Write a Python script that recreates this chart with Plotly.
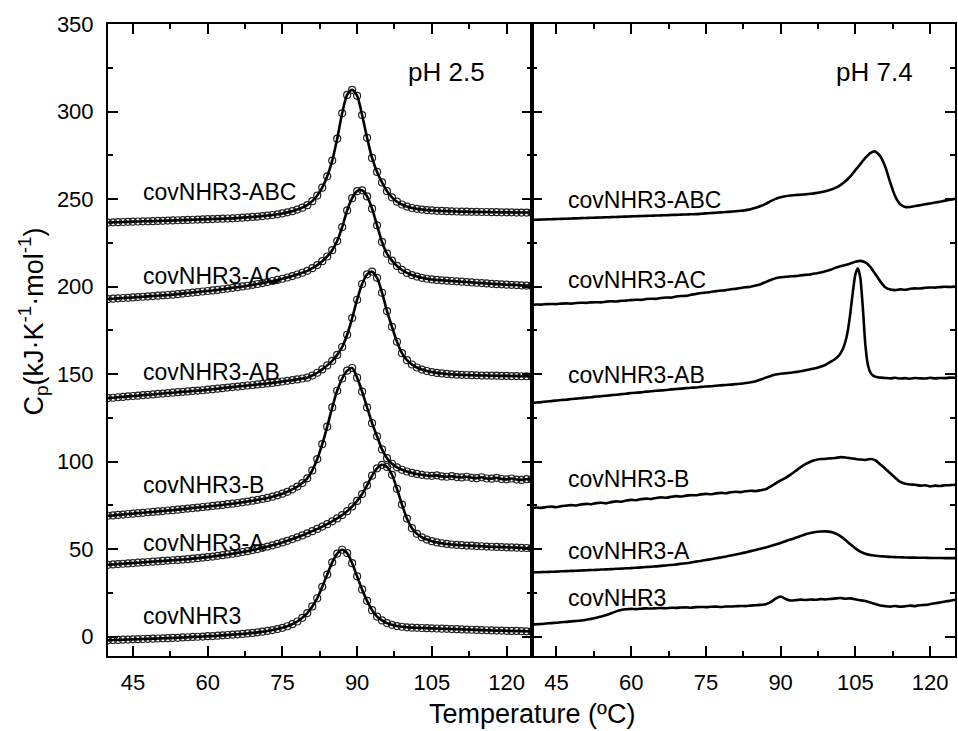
import plotly.graph_objects as go

# Temperature grid (ºC)
TEMP = list(range(40, 126))
AB74_TEMP = (list(range(40, 100))
             + [100, 100.5, 101, 101.5, 102, 102.5, 103, 103.5, 104, 104.5, 105,
                105.5, 106, 106.5, 107, 107.5, 108, 108.5, 109, 109.5, 110]
             + list(range(111, 126)))

NAMES = ["covNHR3", "covNHR3-A", "covNHR3-B", "covNHR3-AB", "covNHR3-AC", "covNHR3-ABC"]

# ---- pH 2.5 : Cp (kJ K-1 mol-1), offset thermograms ----
ph25_covNHR3 = [
    -2.0, -1.9, -1.8, -1.7, -1.6, -1.5, -1.4, -1.3, -1.2, -1.1,
    -1.0, -0.9, -0.8, -0.7, -0.6, -0.4, -0.3, -0.1, 0.0, 0.1,
    0.3, 0.4, 0.6, 0.8, 1.0, 1.2, 1.4, 1.6, 1.9, 2.2,
    2.5, 2.9, 3.3, 3.8, 4.4, 5.1, 6.0, 7.2, 8.7, 10.8,
    13.5, 17.3, 22.0, 28.5, 35.5, 42.5, 47.5, 49.7, 47.8, 42.0,
    34.5, 27.0, 20.5, 15.2, 11.5, 9.3, 7.8, 6.8, 6.1, 5.7,
    5.4, 5.2, 5.1, 5.0, 4.9, 4.8, 4.7, 4.6, 4.5, 4.4,
    4.3, 4.2, 4.1, 4.0, 3.9, 3.8, 3.7, 3.6, 3.5, 3.5,
    3.4, 3.3, 3.3, 3.2, 3.1, 3.0]
ph25_A = [
    41.1, 41.3, 41.5, 41.7, 41.9, 42.1, 42.3, 42.5, 42.7, 42.9,
    43.1, 43.3, 43.5, 43.7, 43.9, 44.1, 44.3, 44.6, 44.9, 45.2,
    45.5, 45.8, 46.2, 46.6, 47.0, 47.4, 47.9, 48.4, 48.9, 49.5,
    50.1, 50.8, 51.5, 52.2, 53.0, 53.9, 54.8, 55.8, 56.8, 57.9,
    59.1, 60.3, 61.6, 62.9, 64.3, 65.9, 67.6, 69.5, 71.7, 74.4,
    77.6, 81.5, 86.5, 92.0, 96.2, 98.2, 97.0, 92.5, 84.5, 75.5,
    67.5, 62.0, 58.8, 56.8, 55.5, 54.6, 53.9, 53.4, 53.0, 52.7,
    52.5, 52.3, 52.1, 52.0, 51.8, 51.7, 51.5, 51.4, 51.3, 51.2,
    51.1, 51.0, 50.9, 50.8, 50.7, 50.6]
ph25_B = [
    69.1, 69.3, 69.6, 69.8, 70.1, 70.3, 70.6, 70.8, 71.1, 71.3,
    71.6, 71.8, 72.1, 72.3, 72.6, 72.9, 73.2, 73.5, 73.8, 74.1,
    74.4, 74.7, 75.0, 75.3, 75.7, 76.0, 76.4, 76.8, 77.2, 77.7,
    78.2, 78.7, 79.3, 80.0, 80.8, 81.7, 82.8, 84.2, 85.8, 87.8,
    90.5, 95.0, 101.5, 110.0, 120.0, 131.0, 140.5, 147.5, 152.0, 153.5,
    148.0, 140.0, 131.0, 122.0, 114.5, 107.0, 102.0, 98.8, 96.8, 95.4,
    94.4, 93.6, 93.0, 92.5, 92.1, 91.9, 92.2, 91.6, 91.4, 91.7,
    91.2, 91.0, 91.4, 90.8, 90.6, 91.1, 90.4, 90.3, 90.8, 90.1,
    89.9, 90.4, 89.8, 89.6, 90.0, 89.8]
ph25_AB = [
    136.3, 136.5, 136.8, 137.0, 137.3, 137.5, 137.7, 138.0, 138.2, 138.4,
    138.7, 138.9, 139.2, 139.4, 139.7, 139.9, 140.1, 140.4, 140.6, 140.8,
    141.1, 141.4, 141.7, 142.0, 142.3, 142.6, 142.9, 143.2, 143.5, 143.8,
    144.1, 144.4, 144.7, 145.0, 145.4, 145.8, 146.2, 146.6, 147.0, 147.5,
    148.0, 149.2, 150.8, 152.7, 155.0, 157.6, 161.0, 165.5, 172.5, 182.0,
    192.5, 201.5, 207.0, 208.5, 205.0, 196.5, 186.0, 177.0, 168.5, 162.0,
    158.0, 155.5, 153.8, 152.6, 151.8, 151.2, 150.7, 150.4, 150.1, 149.9,
    149.7, 149.6, 149.5, 149.4, 149.3, 149.2, 149.2, 149.1, 149.1, 149.0,
    149.0, 148.9, 148.9, 148.8, 148.8, 148.7]
ph25_AC = [
    192.9, 193.1, 193.3, 193.5, 193.6, 193.8, 194.0, 194.2, 194.4, 194.6,
    194.8, 195.0, 195.2, 195.4, 195.7, 196.0, 196.3, 196.6, 196.9, 197.2,
    197.5, 197.8, 198.1, 198.5, 198.9, 199.3, 199.7, 200.1, 200.5, 201.0,
    201.5, 202.0, 202.6, 203.2, 203.8, 204.5, 205.2, 206.0, 206.9, 207.9,
    209.0, 210.5, 212.3, 214.5, 217.2, 220.8, 226.0, 234.0, 243.5, 250.5,
    254.5, 255.0, 251.5, 244.5, 235.0, 225.5, 218.8, 214.8, 211.8, 209.5,
    207.8, 206.6, 205.7, 205.0, 204.5, 204.1, 203.8, 203.6, 203.4, 203.2,
    203.0, 202.8, 202.6, 202.4, 202.2, 202.0, 201.8, 201.6, 201.4, 201.3,
    201.1, 201.0, 200.9, 200.7, 200.6, 200.5]
ph25_ABC = [
    236.6, 236.7, 236.8, 236.9, 237.0, 237.1, 237.2, 237.3, 237.3, 237.4,
    237.5, 237.6, 237.7, 237.8, 237.9, 238.0, 238.1, 238.2, 238.3, 238.4,
    238.5, 238.6, 238.7, 238.8, 238.9, 239.0, 239.2, 239.4, 239.6, 239.8,
    240.0, 240.3, 240.6, 240.9, 241.3, 241.8, 242.4, 243.1, 244.0, 245.1,
    246.5, 248.8, 252.0, 256.5, 263.0, 272.0, 284.5, 299.0, 309.5, 312.4,
    309.0, 298.0, 285.0, 273.5, 265.5, 259.5, 254.5, 251.0, 248.5, 246.9,
    245.7, 244.9, 244.4, 244.0, 243.7, 243.5, 243.3, 243.2, 243.1, 243.0,
    242.9, 242.8, 242.8, 242.7, 242.7, 242.6, 242.6, 242.5, 242.5, 242.4,
    242.4, 242.4, 242.3, 242.3, 242.3, 242.2]

# ---- pH 7.4 ----
ph74_covNHR3 = [
    6.9, 7.1, 7.3, 7.6, 7.8, 8.0, 8.3, 8.5, 8.8, 9.0,
    9.3, 9.7, 10.2, 10.8, 11.6, 12.4, 13.4, 14.5, 15.3, 15.7,
    15.9, 15.8, 16.0, 16.2, 16.1, 16.3, 16.4, 16.3, 16.6, 16.5,
    16.7, 16.8, 16.6, 16.9, 17.0, 16.9, 17.1, 17.2, 17.0, 17.3,
    17.3, 17.4, 17.6, 17.5, 17.8, 18.0, 18.2, 18.6, 19.8, 21.8,
    23.0, 21.6, 20.7, 20.9, 21.2, 21.0, 21.3, 21.1, 21.5, 21.3,
    21.6, 21.9, 22.1, 21.7, 21.9, 21.4, 20.8, 20.4, 19.6, 18.7,
    17.9, 17.5, 17.2, 17.6, 17.1, 17.4, 17.8, 17.5, 18.0, 18.2,
    18.6, 19.1, 19.6, 20.1, 20.6, 21.1]
ph74_A = [
    36.7, 36.8, 36.9, 37.0, 37.1, 37.2, 37.4, 37.5, 37.6, 37.7,
    37.8, 38.0, 38.1, 38.2, 38.4, 38.5, 38.6, 38.8, 38.9, 39.1,
    39.2, 39.4, 39.6, 39.8, 40.0, 40.2, 40.5, 40.7, 41.0, 41.3,
    41.7, 42.0, 42.4, 42.9, 43.3, 43.8, 44.3, 44.8, 45.3, 45.8,
    46.4, 47.0, 47.6, 48.2, 48.9, 49.6, 50.3, 51.0, 51.8, 52.7,
    53.6, 54.6, 55.5, 56.5, 57.5, 58.5, 59.3, 59.8, 60.1, 60.2,
    59.9, 59.0, 57.5, 55.3, 52.8, 50.5, 48.6, 47.4, 46.7, 46.3,
    46.0, 45.8, 45.6, 45.5, 45.4, 45.3, 45.2, 45.2, 45.1, 45.1,
    45.0, 45.0, 45.0, 44.9, 44.9, 44.9]
ph74_B = [
    73.5, 73.8, 73.6, 74.1, 74.3, 74.0, 74.6, 74.9, 75.2, 75.0,
    75.6, 75.9, 75.7, 76.3, 76.5, 76.2, 76.9, 77.3, 77.1, 77.8,
    78.2, 78.0, 78.6, 78.9, 78.7, 79.3, 79.6, 79.4, 79.9, 80.3,
    80.1, 80.6, 80.9, 80.8, 81.3, 81.6, 81.4, 81.9, 82.2, 82.0,
    82.5, 82.8, 82.6, 83.1, 83.4, 83.2, 83.7, 84.2, 85.8, 87.6,
    89.3, 90.8, 92.6, 94.7, 96.8, 98.6, 100.0, 100.9, 101.5, 101.6,
    101.9, 102.1, 102.6, 102.4, 102.0, 101.6, 101.2, 101.0, 101.5, 100.8,
    98.4, 96.0, 93.4, 90.8, 88.4, 87.4, 87.0, 86.8, 86.3, 86.5,
    85.9, 86.3, 86.1, 86.5, 86.6, 86.8]
ph74_AB = [
    133.5, 133.8, 134.0, 134.4, 134.6, 134.9, 135.2, 135.4, 135.8, 136.0,
    136.3, 136.6, 136.8, 137.2, 137.4, 137.7, 138.0, 138.2, 138.6, 138.8,
    139.2, 139.4, 139.6, 140.0, 140.2, 140.5, 140.7, 140.9, 141.3, 141.5,
    141.7, 142.0, 142.2, 142.4, 142.7, 142.9, 143.1, 143.4, 143.6, 143.8,
    144.0, 144.3, 144.5, 144.9, 145.4, 146.0, 146.9, 148.0, 149.0, 149.8,
    150.2, 150.5, 150.8, 151.2, 151.6, 152.2, 152.8, 153.4, 154.2, 155.3,
    157.0, 157.8, 158.8, 160.0, 161.8, 164.5, 168.5, 175.0, 185.0, 197.0,
    207.0, 210.5, 205.0, 188.0, 167.0, 155.5, 151.0, 149.3, 148.6, 148.2,
    148.0,
    147.8, 147.6, 147.9, 147.5, 147.7, 147.4, 147.8, 147.6, 147.5, 147.9,
    147.6, 147.8, 147.7, 148.0, 147.9]
ph74_AC = [
    189.6, 189.8, 189.7, 190.0, 190.1, 190.0, 190.3, 190.4, 190.3, 190.6,
    190.8, 190.7, 191.0, 191.1, 191.0, 191.4, 191.6, 191.5, 191.9, 192.0,
    192.3, 192.5, 192.4, 192.9, 193.1, 193.0, 193.5, 193.8, 193.7, 194.3,
    194.6, 194.7, 195.3, 195.8, 196.3, 196.6, 196.9, 197.4, 197.7, 198.0,
    198.5, 198.7, 199.2, 199.6, 199.9, 200.6, 201.4, 202.6, 203.8, 204.8,
    205.3, 205.6, 205.9, 206.0, 206.4, 206.7, 207.0, 207.5, 208.0, 208.7,
    209.6, 210.8, 211.6, 212.3, 213.2, 214.2, 214.7, 213.8, 211.3, 207.2,
    203.0, 199.6, 198.3, 198.0, 198.4, 198.2, 198.8, 199.0, 198.9, 199.3,
    199.5, 199.4, 199.7, 199.9, 199.8, 200.0]
ph74_ABC = [
    238.1, 238.2, 238.3, 238.4, 238.5, 238.6, 238.7, 238.8, 238.9, 239.0,
    239.1, 239.2, 239.3, 239.4, 239.5, 239.6, 239.7, 239.8, 239.9, 240.0,
    240.1, 240.2, 240.3, 240.4, 240.5, 240.6, 240.7, 240.8, 240.9, 241.0,
    241.1, 241.2, 241.3, 241.4, 241.6, 241.8, 242.0, 242.2, 242.4, 242.6,
    242.8, 243.0, 243.3, 243.7, 244.2, 245.0, 246.0, 247.3, 248.8, 250.1,
    251.0, 251.6, 252.0, 252.3, 252.5, 252.7, 253.0, 253.4, 253.9, 254.5,
    255.3, 256.4, 258.0, 260.2, 263.0, 266.5, 270.0, 273.5, 276.3, 277.2,
    274.5, 268.5, 259.5, 251.5, 247.0, 245.5, 245.5, 246.0, 246.5, 247.0,
    247.5, 248.0, 248.5, 249.1, 249.6, 250.1]

PH25 = [ph25_covNHR3, ph25_A, ph25_B, ph25_AB, ph25_AC, ph25_ABC]
PH74 = [ph74_covNHR3, ph74_A, ph74_B, ph74_AB, ph74_AC, ph74_ABC]
PH74_T = [TEMP, TEMP, TEMP, AB74_TEMP, TEMP, TEMP]

FONT = "Arial, 'Liberation Sans', Helvetica, sans-serif"

fig = go.Figure()

# pH 2.5: measured points (open circles) plus fitted curve
for name, vals in zip(NAMES, PH25):
    fig.add_trace(go.Scatter(
        x=TEMP, y=vals, mode="markers", name=name, showlegend=False,
        marker=dict(symbol="circle-open", size=7, color="#222222",
                    line=dict(width=1.2)),
        xaxis="x", yaxis="y", hoverinfo="skip"))
    fig.add_trace(go.Scatter(
        x=TEMP, y=vals, mode="lines", name=name, showlegend=False,
        line=dict(color="black", width=2.6, shape="spline", smoothing=0.8),
        xaxis="x", yaxis="y", hoverinfo="skip"))

# pH 7.4: raw thermograms
for name, t, vals in zip(NAMES, PH74_T, PH74):
    fig.add_trace(go.Scatter(
        x=t, y=vals, mode="lines", name=name, showlegend=False,
        line=dict(color="black", width=2.6, shape="spline", smoothing=0.5),
        xaxis="x2", yaxis="y2", hoverinfo="skip"))

axis_style = dict(
    showline=True, linecolor="black", linewidth=2, mirror="ticks",
    ticks="inside", ticklen=10, tickwidth=1.5, tickcolor="black",
    showgrid=False, zeroline=False,
    tickfont=dict(family=FONT, size=22, color="black"),
)

x_style = dict(axis_style, range=[40, 125], tick0=45, dtick=15,
               minor=dict(ticks="inside", ticklen=5, tickwidth=1.5,
                          tickcolor="black", tick0=45, dtick=7.5, showgrid=False),
               ticklabelstandoff=6)
y_style = dict(axis_style, range=[-11, 350], tick0=0, dtick=50,
               minor=dict(ticks="inside", ticklen=5, tickwidth=1.5,
                          tickcolor="black", tick0=0, dtick=25, showgrid=False),
               ticklabelstandoff=8)

# label positions (data units) for the curve names
LEFT_LABEL_Y = [11.6, 53.5, 86.8, 151.5, 206.2, 254.3]
RIGHT_LABEL_Y = [22.1, 48.7, 90.1, 149.6, 203.9, 249.6]

annotations = []
for name, yl in zip(NAMES, LEFT_LABEL_Y):
    annotations.append(dict(text=name, x=46.6, y=yl, xref="x", yref="y",
                            xanchor="left", yanchor="middle", showarrow=False,
                            font=dict(family=FONT, size=23, color="black")))
for name, yl in zip(NAMES, RIGHT_LABEL_Y):
    annotations.append(dict(text=name, x=47.0, y=yl, xref="x2", yref="y2",
                            xanchor="left", yanchor="middle", showarrow=False,
                            font=dict(family=FONT, size=23, color="black")))

annotations += [
    dict(text="pH 2.5", x=116, y=322.8, xref="x", yref="y", xanchor="right",
         yanchor="middle", showarrow=False,
         font=dict(family=FONT, size=26, color="black")),
    dict(text="pH 7.4", x=117, y=322.8, xref="x2", yref="y2", xanchor="right",
         yanchor="middle", showarrow=False,
         font=dict(family=FONT, size=26, color="black")),
    dict(text="Temperature (ºC)", x=0.5, y=-0.092, xref="paper", yref="paper",
         xanchor="center", yanchor="middle", showarrow=False,
         font=dict(family=FONT, size=27, color="black")),
    dict(text="C<sub>p</sub>(kJ·K<sup>-1</sup>·mol<sup>-1</sup>)",
         x=-0.088, y=0.53, xref="paper", yref="paper", textangle=-90,
         xanchor="center", yanchor="middle", showarrow=False,
         font=dict(family=FONT, size=27, color="black")),
]

fig.update_layout(
    width=958, height=731, autosize=False,
    margin=dict(l=108, r=1, t=24, b=75, pad=0),
    paper_bgcolor="white", plot_bgcolor="white",
    showlegend=False,
    xaxis=dict(x_style, domain=[0, 0.5], anchor="y"),
    xaxis2=dict(x_style, domain=[0.5, 1], anchor="y2"),
    yaxis=dict(y_style, anchor="x"),
    yaxis2=dict(y_style, anchor="x2", matches="y", showticklabels=False),
    annotations=annotations,
    font=dict(family=FONT, color="black"),
)

fig.write_html("out.html")
